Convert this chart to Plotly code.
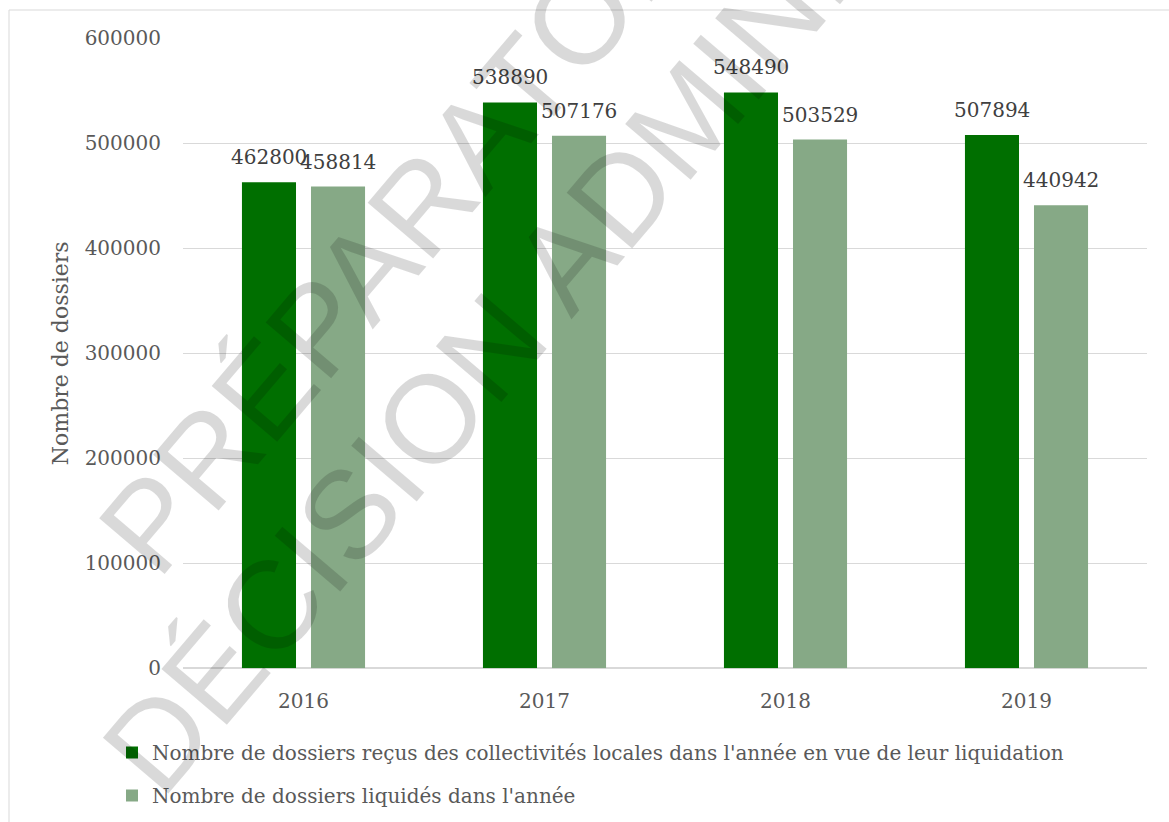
import plotly.graph_objects as go

# Yearly counts of retirement files
years = ["2016", "2017", "2018", "2019"]
recus = [462800, 538890, 548490, 507894]
liquides = [458814, 507176, 503529, 440942]

series_names = [
    "Nombre de dossiers reçus des collectivités locales dans l'année en vue de leur liquidation",
    "Nombre de dossiers liquidés dans l'année",
]
y_ticks = [0, 100000, 200000, 300000, 400000, 500000, 600000]
watermark_lines = ["PRÉPARATOIRE À LA", "DÉCISION ADMINISTRATIVE"]

DARK = "#006f00"
LIGHT = "#86a986"
SERIF = "DejaVu Serif"

# figure size and plot-area box in pixels (paper spans the whole figure)
W, H = 1169, 822
PLOT_L, PLOT_R, PLOT_T, PLOT_B = 183, 1147, 38.3, 668.3


def fx(x):
    return x / W


def fy(y):
    return 1 - y / H


fig = go.Figure()
fig.add_trace(go.Bar(x=years, y=recus, name=series_names[0], marker_color=DARK,
                     marker_line_width=0, legendgroup="a"))
fig.add_trace(go.Bar(x=years, y=liquides, name=series_names[1], marker_color=LIGHT,
                     marker_line_width=0, legendgroup="b"))

annotations = []
# value labels above each bar (x given as category index)
for vals, shift in ((recus, -34.5), (liquides, 34.5)):
    for i, v in enumerate(vals):
        annotations.append(dict(
            x=i, y=v, xref="x", yref="y", text=str(v), showarrow=False,
            xshift=shift, yshift=25, xanchor="center", yanchor="middle",
            font=dict(family=SERIF, size=20, color="#404040"),
        ))

# diagonal watermark
for text, (cx, cy) in zip(watermark_lines, [(534, 72), (670, 136)]):
    annotations.append(dict(
        x=fx(cx), y=fy(cy), xref="paper", yref="paper", text=text,
        showarrow=False, textangle=-49.6, xanchor="center", yanchor="middle",
        font=dict(family="Liberation Sans", size=125, color="rgba(0,0,0,0.15)"),
    ))

fig.update_layout(
    width=W, height=H,
    margin=dict(l=0, r=0, t=0, b=0),
    paper_bgcolor="white", plot_bgcolor="white",
    barmode="group", bargap=0.427, bargroupgap=0.217,
    font=dict(family=SERIF, size=20, color="#595959"),
    showlegend=True,
    legend=dict(
        x=fx(112), y=fy(733), xanchor="left", yanchor="top",
        orientation="v", traceorder="grouped", tracegroupgap=14,
        font=dict(family=SERIF, size=20, color="#595959"),
        bgcolor="rgba(0,0,0,0)",
    ),
    xaxis=dict(
        domain=[fx(PLOT_L), fx(PLOT_R)],
        type="category", categoryorder="array", categoryarray=years,
        range=[-0.5, len(years) - 0.5],
        showgrid=False, showline=False, zeroline=False,
        ticks="outside", ticklen=15, tickcolor="rgba(0,0,0,0)",
        automargin=False,
        tickfont=dict(family=SERIF, size=20, color="#595959"),
    ),
    yaxis=dict(
        domain=[fy(PLOT_B), fy(PLOT_T)],
        range=[0, 600000], tickvals=y_ticks, tickformat="d",
        showgrid=True, gridcolor="#d9d9d9", gridwidth=1,
        zeroline=True, zerolinecolor="#d9d9d9", zerolinewidth=1.5,
        showline=False,
        ticks="outside", ticklen=17, tickcolor="rgba(0,0,0,0)",
        automargin=False,
        tickfont=dict(family=SERIF, size=20, color="#595959"),
        title=dict(text="Nombre de dossiers", standoff=9,
                   font=dict(family=SERIF, size=22, color="#595959")),
    ),
    annotations=annotations,
    shapes=[dict(
        type="rect", xref="paper", yref="paper",
        x0=fx(9), x1=fx(W + 20), y0=fy(H + 20), y1=fy(10),
        line=dict(color="#d9d9d9", width=1), fillcolor="rgba(0,0,0,0)",
        layer="below",
    )],
)

fig.write_html("out.html")
